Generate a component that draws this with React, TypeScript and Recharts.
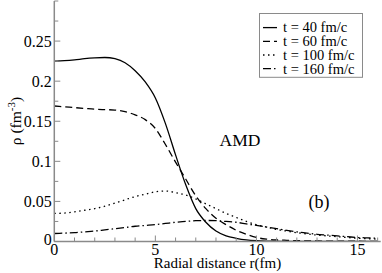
import React from "react";
import { LineChart, Line, XAxis, YAxis, Legend, Customized } from "recharts";

// ---- data ----
const radius = [
  0, 0.5, 1, 1.5, 2, 2.5, 3, 3.5, 4, 4.5, 5, 5.5, 6, 6.5, 7, 7.5, 8, 8.5, 9, 9.5,
  10, 10.5, 11, 11.5, 12, 12.5, 13, 13.5, 14, 14.5, 15, 15.5, 16,
];
const rho40 = [
  0.225, 0.2255, 0.2265, 0.228, 0.229, 0.2295, 0.228, 0.223, 0.213, 0.199, 0.179, 0.147, 0.108,
  0.071, 0.041, 0.024, 0.013, 0.007, 0.004, 0.002, 0.001, 0.0005, 0.0003, 0.0002, 0.0001, 0, 0, 0,
  0, 0, 0, 0, 0,
];
const rho60 = [
  0.169, 0.168, 0.167, 0.166, 0.165, 0.1645, 0.164, 0.162, 0.158, 0.152, 0.141, 0.121, 0.099,
  0.078, 0.057, 0.041, 0.029, 0.021, 0.014, 0.009, 0.005, 0.003, 0.002, 0.0015, 0.001, 0.0008,
  0.0006, 0.0005, 0.0004, 0.0003, 0.0003, 0.0002, 0.0002,
];
const rho100 = [
  0.035, 0.0355, 0.037, 0.039, 0.041, 0.044, 0.048, 0.052, 0.056, 0.059, 0.062, 0.063, 0.061,
  0.058, 0.053, 0.047, 0.041, 0.035, 0.03, 0.025, 0.021, 0.018, 0.015, 0.013, 0.011, 0.0095,
  0.008, 0.007, 0.006, 0.005, 0.004, 0.0035, 0.003,
];
const rho160 = [
  0.01, 0.0105, 0.011, 0.012, 0.013, 0.0145, 0.016, 0.0175, 0.019, 0.02, 0.021, 0.0225, 0.024,
  0.025, 0.026, 0.0262, 0.026, 0.025, 0.024, 0.022, 0.02, 0.018, 0.016, 0.014, 0.012, 0.0105,
  0.009, 0.008, 0.007, 0.006, 0.005, 0.0045, 0.004,
];

const seriesKeys = ["t40", "t60", "t100", "t160"];
const seriesNames = ["t = 40 fm/c", "t = 60 fm/c", "t = 100 fm/c", "t = 160 fm/c"];
const seriesDash = ["", "7 4", "1.5 3.5", "8 3 1.5 3"];

const xTicks = [0, 1, 2, 3, 4, 5, 6, 7, 8, 9, 10, 11, 12, 13, 14, 15, 16];
const xTickLabels = ["0", "5", "10", "15"];
const yTicks = [
  0, 0.025, 0.05, 0.075, 0.1, 0.125, 0.15, 0.175, 0.2, 0.225, 0.25, 0.275, 0.3,
];
const yTickLabels = ["0", "0.05", "0.1", "0.15", "0.2", "0.25"];

const data = radius.map((r, i) => ({
  r,
  t40: rho40[i],
  t60: rho60[i],
  t100: rho100[i],
  t160: rho160[i],
}));

// ---- styling ----
const GRAY = "#8a8a8a";
const FONT = "'Liberation Serif', 'Times New Roman', serif";

const labelFor = (labels: string[], v: number) =>
  labels.find((l) => Math.abs(parseFloat(l) - v) < 1e-9);

const BottomTick = (props: any) => {
  const { x, y, payload } = props;
  const lbl = labelFor(xTickLabels, payload.value);
  const len = lbl !== undefined ? 6 : 4;
  return (
    <g>
      <line x1={x} x2={x} y1={y} y2={y - len} stroke={GRAY} strokeWidth={1} />
      {lbl !== undefined && (
        <text x={x} y={y + 13.5} textAnchor="middle" fontSize={16} fontFamily={FONT} fill="#000">
          {lbl}
        </text>
      )}
    </g>
  );
};

const TopTick = (props: any) => {
  const { x, y, payload } = props;
  const lbl = labelFor(xTickLabels, payload.value);
  const len = lbl !== undefined ? 6 : 4;
  return <line x1={x} x2={x} y1={y} y2={y + len} stroke={GRAY} strokeWidth={1} />;
};

const LeftTick = (props: any) => {
  const { x, y, payload } = props;
  const lbl = labelFor(yTickLabels, payload.value);
  const len = lbl !== undefined ? 6 : 4;
  return (
    <g>
      <line x1={x} x2={x + len} y1={y} y2={y} stroke={GRAY} strokeWidth={1} />
      {lbl !== undefined && (
        <text
          x={x - 2.5}
          y={payload.value === 0 ? y + 3 : y + 5.5}
          textAnchor="end"
          fontSize={16}
          fontFamily={FONT}
          fill="#000"
        >
          {lbl}
        </text>
      )}
    </g>
  );
};

const RightTick = (props: any) => {
  const { x, y, payload } = props;
  const lbl = labelFor(yTickLabels, payload.value);
  const len = lbl !== undefined ? 6 : 4;
  return <line x1={x} x2={x - len} y1={y} y2={y} stroke={GRAY} strokeWidth={1} />;
};

const LegendBox = () => (
  <svg width={104} height={65} style={{ display: "block" }}>
    <rect x={0.5} y={0.5} width={103} height={63.8} fill="#fff" stroke={GRAY} strokeWidth={1} />
    {seriesNames.map((name, i) => {
      const cy = 14.6 + i * 13.7;
      return (
        <g key={name}>
          <line
            x1={4}
            x2={18}
            y1={cy}
            y2={cy}
            stroke="#000"
            strokeWidth={1.3}
            strokeDasharray={seriesDash[i] || undefined}
          />
          <text x={24} y={cy + 4.8} fontSize={14.5} fontFamily={FONT} fill="#000">
            {name}
          </text>
        </g>
      );
    })}
  </svg>
);

const Annotations = () => (
  <g>
    <text x={217.5} y={268} textAnchor="middle" fontSize={15} fontFamily={FONT} fill="#000">
      Radial distance r(fm)
    </text>
    <text
      transform="rotate(-90)"
      x={-121}
      y={20.5}
      textAnchor="middle"
      fontSize={15.5}
      fontFamily={FONT}
      fill="#000"
    >
      ρ (fm
      <tspan dy={-6} fontSize={11}>
        -3
      </tspan>
      <tspan dy={6}>)</tspan>
    </text>
    <text x={219.5} y={146} fontSize={17.5} fontFamily={FONT} fill="#000">
      AMD
    </text>
    <text x={308.5} y={208} fontSize={18} fontFamily={FONT} fill="#000">
      (b)
    </text>
  </g>
);

export default function App() {
  return (
    <div style={{ position: "absolute", left: 0, top: 0, background: "#fff" }}>
      <LineChart
        width={382}
        height={273}
        data={data}
        margin={{ top: 1, right: 1.3, left: 0, bottom: 0 }}
      >
        <XAxis
          dataKey="r"
          type="number"
          domain={[0, 16.15]}
          ticks={xTicks}
          interval={0}
          tickSize={0}
          tickMargin={0}
          tickLine={false}
          tick={BottomTick}
          axisLine={{ stroke: GRAY, strokeWidth: 1.5 }}
          height={31.5}
          allowDataOverflow
        />
        <XAxis
          xAxisId="top"
          orientation="top"
          dataKey="r"
          type="number"
          domain={[0, 16.15]}
          ticks={xTicks}
          interval={0}
          tickSize={0}
          tickMargin={0}
          tickLine={false}
          tick={TopTick}
          axisLine={{ stroke: GRAY, strokeWidth: 1.5 }}
          height={0}
          allowDataOverflow
        />
        <YAxis
          type="number"
          domain={[0, 0.3]}
          ticks={yTicks}
          interval={0}
          tickSize={0}
          tickMargin={0}
          tickLine={false}
          tick={LeftTick}
          axisLine={{ stroke: GRAY, strokeWidth: 1.5 }}
          width={54.3}
          allowDataOverflow
        />
        <YAxis
          yAxisId="right"
          orientation="right"
          type="number"
          domain={[0, 0.3]}
          ticks={yTicks}
          interval={0}
          tickSize={0}
          tickMargin={0}
          tickLine={false}
          tick={RightTick}
          axisLine={{ stroke: GRAY, strokeWidth: 1.5 }}
          width={0}
          allowDataOverflow
        />
        {seriesKeys.map((k, i) => (
          <Line
            key={k}
            dataKey={k}
            name={seriesNames[i]}
            type="monotone"
            stroke="#000"
            strokeWidth={1.3}
            strokeDasharray={seriesDash[i] || undefined}
            dot={false}
            activeDot={false}
            isAnimationActive={false}
          />
        ))}
        <Legend
          layout="horizontal"
          align="center"
          verticalAlign="middle"
          content={LegendBox}
          wrapperStyle={{
            position: "absolute",
            left: 259,
            top: 13.3,
            width: 104,
            height: 65,
            margin: 0,
            padding: 0,
            lineHeight: 0,
          }}
        />
        <Customized component={Annotations} />
      </LineChart>
    </div>
  );
}
